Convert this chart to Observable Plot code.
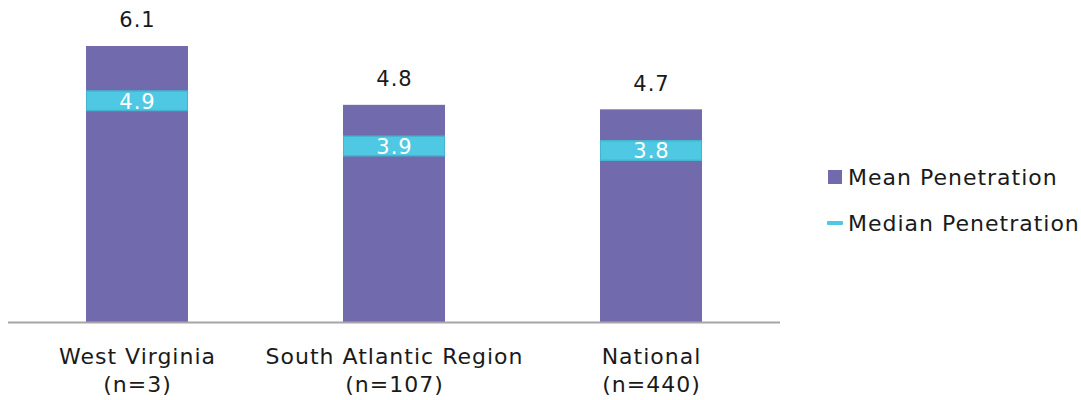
<!DOCTYPE html>
<html>
<head>
<meta charset="utf-8">
<script src="https://cdn.jsdelivr.net/npm/d3@7"></script>
<script src="https://cdn.jsdelivr.net/npm/@observablehq/plot@0.6"></script>
<style>
  html, body { margin: 0; padding: 0; background: #fff; }
  #wrap { position: relative; width: 1081px; height: 400px; font-family: "DejaVu Sans", sans-serif; }
  #chart { position: absolute; left: 0; top: 0; }
  .legend { position: absolute; left: 827px; top: 162px; font-size: 22px; color: #1a1a1a; letter-spacing: 1px; }
  .legend .item { display: flex; align-items: center; height: 30px; margin-bottom: 16px; white-space: nowrap; }
  .legend .sw-bar { width: 14px; height: 14px; background: #716aac; margin-right: 6px; margin-left: 1px; }
  .legend .sw-med { width: 16px; height: 4px; background: #4fc8e3; border-radius: 1px; margin-right: 5px; }
</style>
</head>
<body>
<div id="wrap">
  <div id="chart"></div>
  <div class="legend">
    <div class="item"><span class="sw-bar"></span><span>Mean Penetration</span></div>
    <div class="item"><span class="sw-med"></span><span>Median Penetration</span></div>
  </div>
</div>
<script>
const regions = ["West Virginia", "South Atlantic Region", "National"];
const counts = [3, 107, 440];
const meanValues = [6.1, 4.8, 4.7];
const medianValues = [4.9, 3.9, 3.8];

const data = regions.map((r, i) => ({region: r, n: counts[i], mean: meanValues[i], median: medianValues[i]}));
const labelOf = new Map(data.map(d => [d.region, `${d.region}\n(n=${d.n})`]));

const chart = Plot.plot({
  width: 800,
  height: 400,
  marginLeft: 8,
  marginRight: 20,
  marginTop: 46,
  marginBottom: 78,
  style: {fontFamily: "'DejaVu Sans', sans-serif", color: "#1a1a1a", background: "transparent", letterSpacing: "1px"},
  x: {domain: regions, paddingInner: 0.603, paddingOuter: 0.3015, label: null},
  y: {domain: [0, 6.1], axis: null},
  marks: [
    Plot.barY(data, {x: "region", y: "mean", fill: "#716aac"}),
    Plot.ruleY([0], {stroke: "#a6a6a6", strokeWidth: 2}),
    Plot.tickY(data, {x: "region", y: "median", stroke: "#45b5cf", strokeWidth: 21}),
    Plot.tickY(data, {x: "region", y: "median", stroke: "#4fc8e3", strokeWidth: 18, inset: 1}),
    Plot.text(data, {x: "region", y: "median", text: d => d.median.toFixed(1), fill: "white", fontSize: 21, dy: 1}),
    Plot.text(data, {x: "region", y: "mean", text: d => d.mean.toFixed(1), fill: "#1a1a1a", fontSize: 21, dy: -26}),
    Plot.axisX({tickSize: 0, tickPadding: 21, fontSize: 22, lineHeight: 1.3, tickFormat: d => labelOf.get(d), fill: "#1a1a1a"})
  ]
});
document.getElementById("chart").appendChild(chart);
</script>
</body>
</html>
